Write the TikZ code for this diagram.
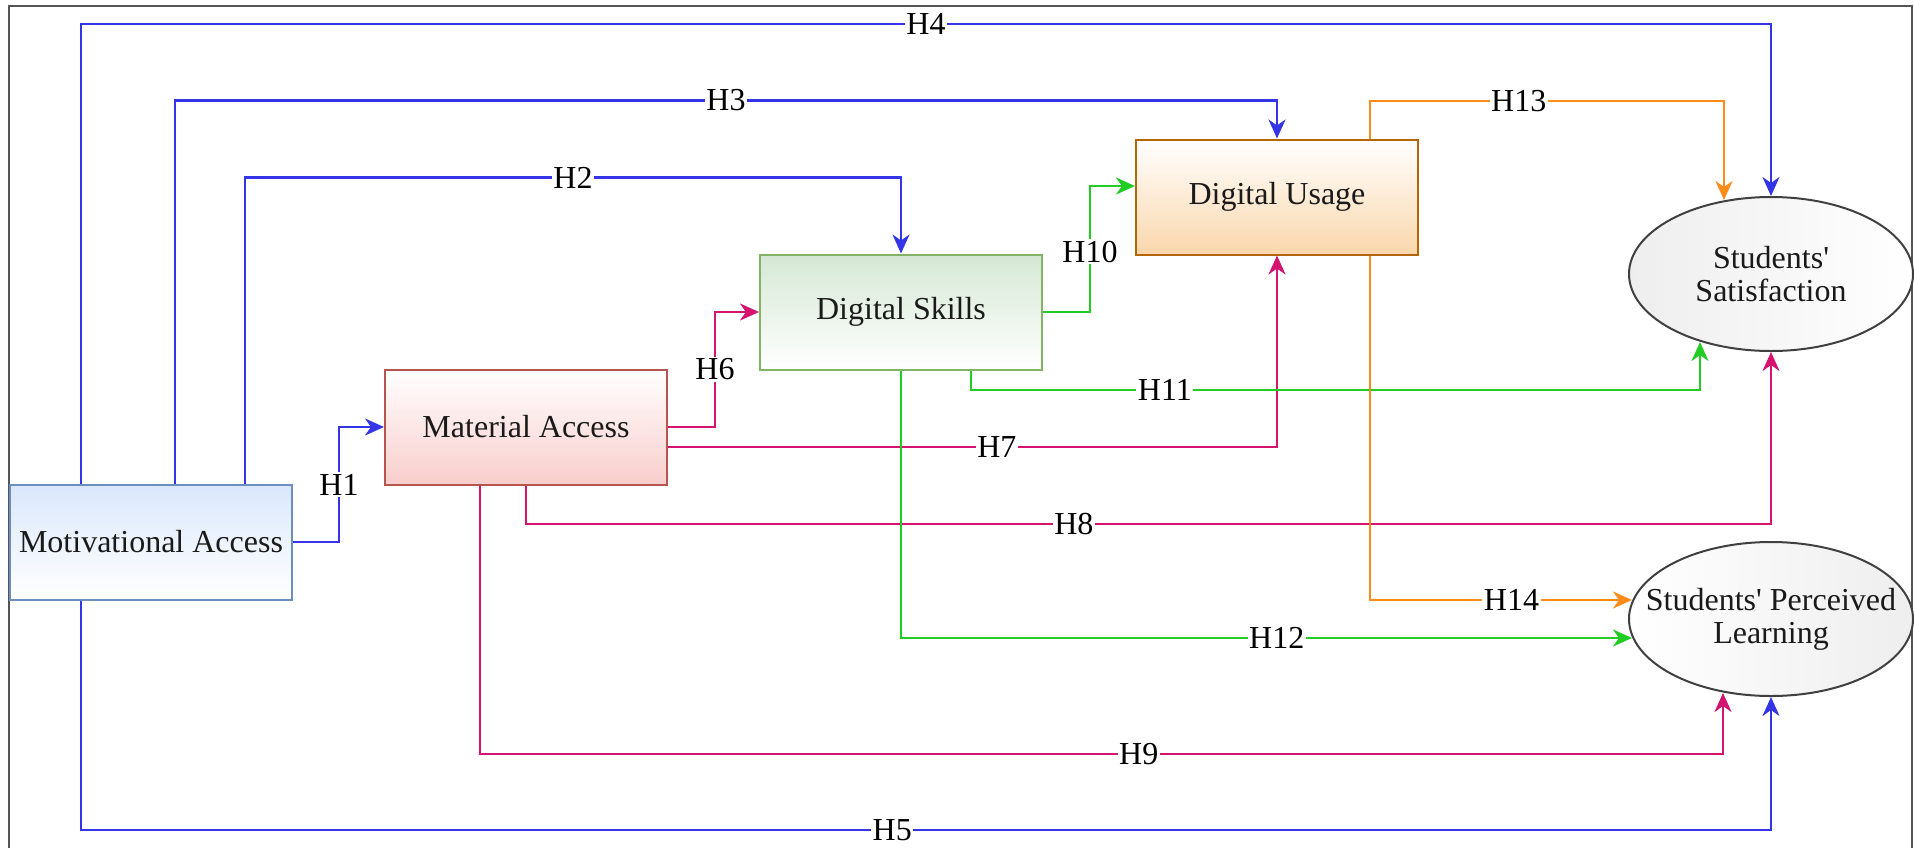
\documentclass[tikz,border=0pt]{standalone}
\usepackage{fontspec}
\setmainfont{Liberation Serif}[Ligatures=TeXOff]
\usetikzlibrary{arrows.meta,shapes.geometric}
\definecolor{cblue}{HTML}{3535E8}
\definecolor{cpink}{HTML}{D4146E}
\definecolor{cgreen}{HTML}{22CC22}
\definecolor{corange}{HTML}{FF8C1A}
\definecolor{txt}{HTML}{1A1A1A}
\definecolor{framec}{HTML}{555555}
\definecolor{maB}{HTML}{6C8EBF}
\definecolor{maF}{HTML}{DAE8FC}
\definecolor{mtB}{HTML}{B85450}
\definecolor{mtF}{HTML}{F8CECC}
\definecolor{dsB}{HTML}{82B366}
\definecolor{dsF}{HTML}{D5E8D4}
\definecolor{duB}{HTML}{B46504}
\definecolor{duF}{HTML}{FAD7AC}
\definecolor{elF}{HTML}{EEEEEE}
\begin{document}
\begin{tikzpicture}[x=1pt,y=-1pt,
  bigfont/.style={font=\fontsize{32}{33}\selectfont},
  box/.style={draw, line width=2pt, minimum width=282pt, minimum height=115pt, inner sep=0pt, bigfont, text=txt},
  ell/.style={ellipse, draw=black!75, line width=2pt, minimum width=284pt, minimum height=154pt, inner sep=0pt},
  etext/.style={bigfont, text=txt, align=center, inner sep=0pt},
  lbl/.style={fill=white, inner sep=1.5pt, bigfont, text=black},
  conn/.style={line width=2.6pt, -{Stealth[length=19pt,width=17pt,inset=6pt]}},
  cb/.style={conn, draw=cblue},
  cp/.style={conn, draw=cpink},
  cg/.style={conn, draw=cgreen},
  co/.style={conn, draw=corange}]
\useasboundingbox (0,0) rectangle (1914,847);
\draw[framec, line width=1.5pt] (9,6) rectangle (1912,900);

\node[box, draw=maB, top color=maF, bottom color=white] (MA) at (151,542) {Motivational Access};
\node[box, draw=mtB, top color=white, bottom color=mtF] (MatA) at (526,427) {Material Access};
\node[box, draw=dsB, top color=dsF, bottom color=white] (DS) at (901,312) {Digital Skills};
\node[box, draw=duB, top color=white, bottom color=duF] (DU) at (1277,197) {Digital Usage};
\node[ell, left color=elF, right color=white] (SS) at (1771,274) {};
\node[etext] (SStext) at (SS.center) {Students'\\Satisfaction};
\node[ell, left color=white, right color=elF] (SPL) at (1771,619) {};
\node[etext] (SPLtext) at (SPL.center) {Students' Perceived\\Learning};

% blue
\draw[cb] (MA.east) -- ++(46,0) |- node[lbl,pos=0.25]{H1} (MatA.west);
\draw[cb] ([xshift=94pt]MA.north) |- node[lbl,pos=0.75]{H2} ([yshift=76pt]DS.north) -- (DS.north);
\draw[cb] ([xshift=24pt]MA.north) |- node[lbl,pos=0.75]{H3} ([yshift=38pt]DU.north) -- (DU.north);
\draw[cb] ([xshift=-70pt]MA.north) |- node[lbl,pos=0.75]{H4} ([yshift=172pt]SS.north) -- (SS.north);
\draw[cb] ([xshift=-70pt]MA.south) |- node[lbl,pos=0.74]{H5} ([yshift=-133pt]SPL.south) -- (SPL.south);
% pink
\draw[cp] (MatA.east) -- ++(47,0) |- node[lbl,pos=0.25]{H6} (DS.west);
\draw[cp] ([yshift=-20pt]MatA.east) -| node[lbl,pos=0.27]{H7} (DU.south);
\draw[cp] (MatA.south) |- node[lbl,pos=0.72]{H8} ([yshift=-172pt]SS.south) -- (SS.south);
\draw[cp] ([xshift=-46pt]MatA.south) |- node[lbl,pos=0.765]{H9} ([xshift=-48pt,yshift=-57pt]SPL.south) -- ([xshift=-48pt,yshift=4pt]SPL.south);
% green
\draw[cg] (DS.east) -- ++(47,0) |- node[lbl,pos=0.24]{H10} ([yshift=11pt]DU.west);
\draw[cg] ([xshift=70pt]DS.south) |- node[lbl,pos=0.633]{H11} ([xshift=-71pt,yshift=-38pt]SS.south) -- ([xshift=-71pt,yshift=10pt]SS.south);
\draw[cg] (DS.south) |- node[lbl,pos=0.757]{H12} ([xshift=4pt,yshift=-19pt]SPL.west);
% orange
\draw[co] ([xshift=93pt]DU.north) |- node[lbl,pos=0.71]{H13} ([xshift=-47pt,yshift=95pt]SS.north) -- ([xshift=-47pt,yshift=-4pt]SS.north);
\draw[co] ([xshift=93pt]DU.south) |- node[lbl,pos=0.77]{H14} ([xshift=4pt,yshift=19pt]SPL.west);
\end{tikzpicture}
\end{document}
